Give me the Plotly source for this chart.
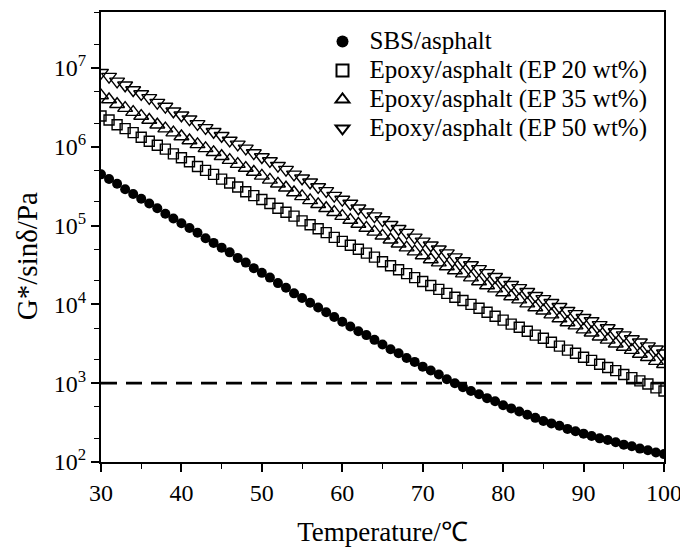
import numpy as np
import plotly.graph_objects as go

# Temperature (°C), one reading per degree
temperature = list(range(30, 101))

# log10 of G*/sinδ (Pa), one value per degree 30..100
sbs_log = [5.65, 5.59, 5.53, 5.46, 5.40, 5.34,
           5.28, 5.22, 5.15, 5.09, 5.03,
           4.97, 4.91, 4.84, 4.78, 4.72,
           4.66, 4.59, 4.53, 4.46, 4.40,
           4.34, 4.27, 4.21, 4.14, 4.08,
           4.02, 3.96, 3.90, 3.84, 3.78,
           3.72, 3.66, 3.61, 3.55, 3.49,
           3.43, 3.38, 3.32, 3.27, 3.21,
           3.16, 3.11, 3.05, 3.00, 2.95,
           2.90, 2.86, 2.81, 2.77, 2.72,
           2.68, 2.64, 2.60, 2.56, 2.52,
           2.49, 2.46, 2.42, 2.39, 2.36,
           2.33, 2.30, 2.28, 2.25, 2.22,
           2.20, 2.17, 2.15, 2.12, 2.10]

ep20_log = [6.39, 6.34, 6.28, 6.23, 6.18, 6.12,
            6.07, 6.02, 5.97, 5.91, 5.86,
            5.81, 5.75, 5.70, 5.65, 5.59,
            5.54, 5.49, 5.43, 5.38, 5.33,
            5.28, 5.22, 5.17, 5.12, 5.06,
            5.01, 4.96, 4.91, 4.85, 4.80,
            4.75, 4.70, 4.65, 4.60, 4.54,
            4.49, 4.44, 4.39, 4.34, 4.29,
            4.24, 4.19, 4.14, 4.09, 4.05,
            4.00, 3.95, 3.90, 3.85, 3.80,
            3.75, 3.71, 3.66, 3.61, 3.57,
            3.52, 3.47, 3.42, 3.38, 3.33,
            3.29, 3.24, 3.20, 3.16, 3.11,
            3.07, 3.03, 2.99, 2.94, 2.90]

ep35_log = [6.65, 6.60, 6.54, 6.49, 6.44, 6.39,
            6.34, 6.28, 6.23, 6.18, 6.13,
            6.08, 6.03, 5.98, 5.93, 5.88,
            5.83, 5.78, 5.73, 5.68, 5.63,
            5.58, 5.53, 5.48, 5.42, 5.37,
            5.32, 5.27, 5.22, 5.17, 5.12,
            5.07, 5.02, 4.97, 4.92, 4.87,
            4.82, 4.77, 4.72, 4.67, 4.62,
            4.57, 4.53, 4.48, 4.43, 4.39,
            4.34, 4.29, 4.24, 4.20, 4.15,
            4.10, 4.06, 4.01, 3.96, 3.92,
            3.87, 3.82, 3.77, 3.73, 3.68,
            3.64, 3.59, 3.55, 3.50, 3.46,
            3.42, 3.37, 3.33, 3.28, 3.24]

ep50_log = [6.94, 6.89, 6.83, 6.78, 6.72, 6.67,
            6.62, 6.56, 6.51, 6.45, 6.40,
            6.35, 6.29, 6.24, 6.19, 6.14,
            6.08, 6.03, 5.98, 5.92, 5.87,
            5.82, 5.76, 5.71, 5.65, 5.60,
            5.55, 5.49, 5.44, 5.38, 5.33,
            5.28, 5.22, 5.17, 5.12, 5.07,
            5.01, 4.96, 4.91, 4.85, 4.80,
            4.75, 4.70, 4.65, 4.60, 4.55,
            4.50, 4.45, 4.40, 4.35, 4.30,
            4.25, 4.21, 4.16, 4.11, 4.07,
            4.02, 3.97, 3.92, 3.88, 3.83,
            3.79, 3.74, 3.70, 3.65, 3.61,
            3.56, 3.52, 3.47, 3.43, 3.38]

series_names = ["SBS/asphalt",
                "Epoxy/asphalt (EP 20 wt%)",
                "Epoxy/asphalt (EP 35 wt%)",
                "Epoxy/asphalt (EP 50 wt%)"]

threshold = 1000  # dashed reference line (Pa)

y_tick_vals = [1e2, 1e3, 1e4, 1e5, 1e6, 1e7]
y_tick_text = ["10<sup>2</sup>", "10<sup>3</sup>", "10<sup>4</sup>",
               "10<sup>5</sup>", "10<sup>6</sup>", "10<sup>7</sup>"]
x_tick_vals = [30, 40, 50, 60, 70, 80, 90, 100]

FONT = "Liberation Serif"

styles = [
    dict(symbol="circle", size=10, color="black", line=dict(color="black", width=0)),
    dict(symbol="square-open", size=10, color="black", line=dict(width=1.4)),
    dict(symbol="triangle-up-open", size=13, color="black", line=dict(width=1.4)),
    dict(symbol="triangle-down-open", size=13, color="black", line=dict(width=1.4)),
]

fig = go.Figure()
for name, logs, st in zip(series_names, [sbs_log, ep20_log, ep35_log, ep50_log], styles):
    fig.add_trace(go.Scatter(
        x=temperature, y=10 ** np.array(logs), mode="markers",
        name='<span style="font-size:25px">' + name + '</span>',
        marker=st,
    ))

fig.add_trace(go.Scatter(
    x=[temperature[0], temperature[-1]], y=[threshold, threshold],
    mode="lines", line=dict(color="black", width=2.8, dash="16px,9px"),
    showlegend=False, hoverinfo="skip",
))

fig.update_layout(
    width=680, height=539,
    margin=dict(l=93, r=24, t=4, b=85, autoexpand=False),
    paper_bgcolor="white", plot_bgcolor="white",
    font=dict(family=FONT, color="black", size=24),
    showlegend=True,
    legend=dict(x=0.381, y=0.978, xanchor="left", yanchor="top",
                bgcolor="rgba(0,0,0,0)", borderwidth=0,
                font=dict(family=FONT, size=20), itemsizing="constant",
                itemwidth=44, tracegroupgap=0),
    xaxis=dict(range=[30, 100], tickvals=x_tick_vals, automargin=False,
               ticks="outside", ticklen=8, tickwidth=1.5, tickcolor="black",
               minor=dict(dtick=5, ticks="outside", ticklen=5, tickwidth=1.2, tickcolor="black"),
               showline=True, linecolor="black", linewidth=2, mirror=True,
               showgrid=False, zeroline=False,
               tickfont=dict(family=FONT, size=24),
               title=dict(text="Temperature/℃", font=dict(family=FONT, size=27), standoff=17)),
    yaxis=dict(type="log", range=[2, 7.71], tickvals=y_tick_vals, ticktext=y_tick_text,
               automargin=False,
               ticks="outside", ticklen=8, tickwidth=1.5, tickcolor="black",
               minor=dict(ticks="outside", ticklen=5, tickwidth=1.2, tickcolor="black",
                          showgrid=False),
               showline=True, linecolor="black", linewidth=2, mirror=True,
               showgrid=False, zeroline=False,
               tickfont=dict(family=FONT, size=24)),
    annotations=[dict(text="G*/sinδ/Pa", textangle=-90, xref="paper", yref="paper",
                      x=-0.131, y=0.458, xanchor="center", yanchor="middle",
                      showarrow=False, font=dict(family=FONT, size=29))],
)

fig.write_html("out.html")
